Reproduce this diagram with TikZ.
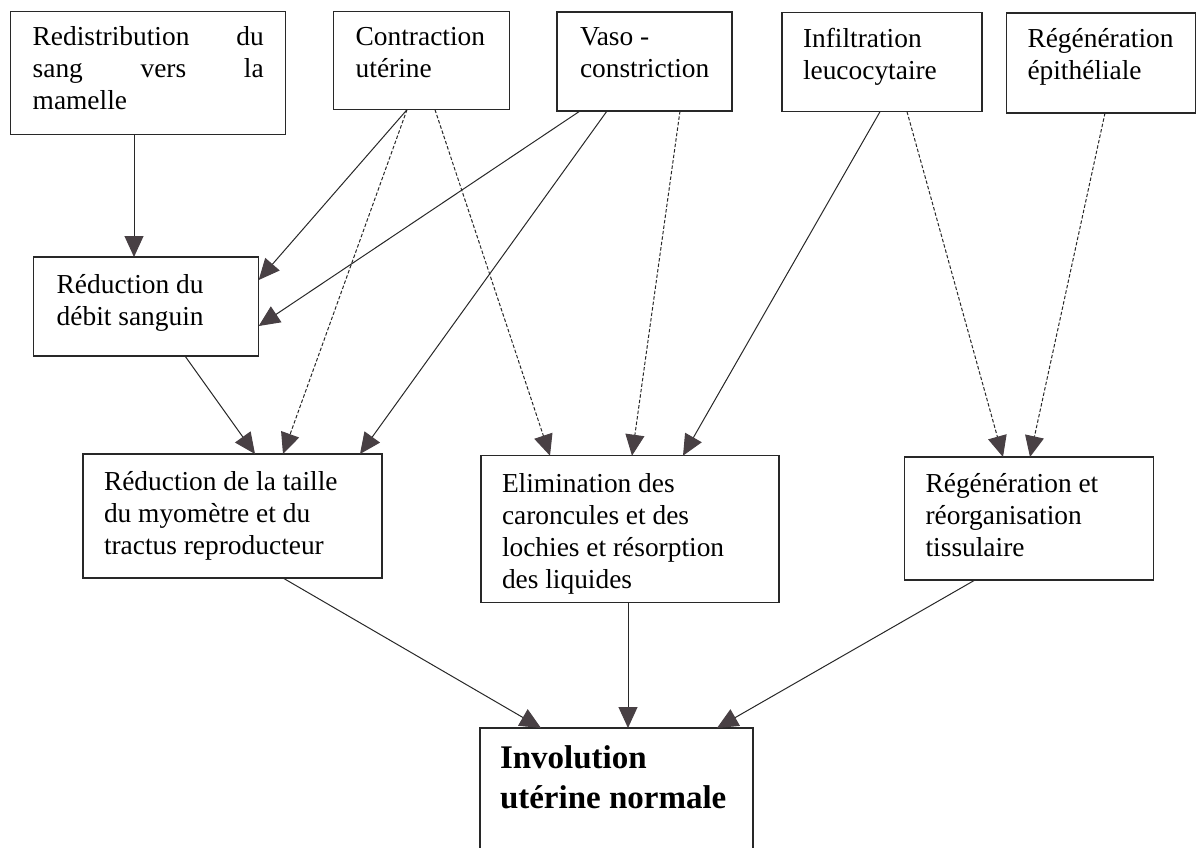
\documentclass[tikz,border=0pt]{standalone}
\usepackage{fontspec}
\setmainfont{Liberation Serif}
\usetikzlibrary{arrows.meta}
\definecolor{ln}{RGB}{40,40,40}
\definecolor{hd}{RGB}{72,64,68}
% #1 width, #2 height, #3 side padding, #4 top padding, #5 text
\newcommand\bxt[5]{\parbox[c][#2pt][t]{#1pt}{\hyphenpenalty=10000\leftskip=#3pt\rightskip=#3pt plus 1fil\vspace*{#4pt}\strut #5\par}}
\tikzset{
  box/.style={draw=ln, line width=1.3pt, fill=white, inner sep=0pt, outer sep=0pt,
    anchor=north west, font=\fontsize{27.4}{32}\selectfont},
  boldbox/.style={box, font=\bfseries\fontsize{33}{40}\selectfont},
  arr/.style={draw=ln, line width=1pt, -{Triangle[length=21pt,width=19pt,color=hd]}},
  dasharr/.style={arr, dash pattern=on 3.5pt off 2pt}
}
\begin{document}
\begin{tikzpicture}[x=1pt,y=-1pt]
\useasboundingbox (0,0) rectangle (1203,847);
% top row
\node[box] (redist) at (10.7,11.7) {\bxt{275}{123}{22}{11}{Redistribution\hfill du\\ sang\hfill vers\hfill la\\ mamelle}};
\node[box] (contr) at (333.7,11.7) {\bxt{176}{98}{22}{11}{Contraction\\ utérine}};
\node[box] (vaso) at (557,12) {\bxt{175}{99}{23}{11}{Vaso -\\ constriction}};
\node[box] (infil) at (782,12.7) {\bxt{200}{99}{21}{12}{Infiltration\\ leucocytaire}};
\node[box] (regep) at (1006.5,13) {\bxt{189}{100}{21}{11.6}{Régénération\\ épithéliale}};
% second row
\node[box] (debit) at (33.7,257) {\bxt{225}{99}{23}{13.6}{Réduction du\\ débit sanguin}};
% third row
\node[box] (taille) at (83,454) {\bxt{299}{124}{21}{13.6}{Réduction de la taille\\ du myomètre et du\\ tractus reproducteur}};
\node[box] (elim) at (481,455.7) {\bxt{298}{147}{21}{14}{Elimination des\\ caroncules et des\\ lochies et résorption\\ des liquides}};
\node[box] (regen) at (904.6,457) {\bxt{249}{123}{21}{12.6}{Régénération et\\ réorganisation\\ tissulaire}};
% bottom
\node[boldbox] (invol) at (480,728) {\bxt{273}{150}{20}{12}{Involution\\ utérine normale}};
% connectors
\draw[arr] ([xshift=123.3pt]redist.south west) -- ([xshift=100.3pt]debit.north west);
\draw[arr] ([xshift=73.3pt]contr.south west) -- ([yshift=-23pt]debit.north east);
\draw[arr] ([xshift=23pt]vaso.south west) -- ([yshift=-69pt]debit.north east);
\draw[arr] ([xshift=151.3pt]debit.south west) -- ([xshift=172pt]taille.north west);
\draw[dasharr] ([xshift=73.3pt]contr.south west) -- ([xshift=200pt]taille.north west);
\draw[arr] ([xshift=50pt]vaso.south west) -- ([xshift=277pt]taille.north west);
\draw[dasharr] ([xshift=101.3pt]contr.south west) -- ([xshift=69pt]elim.north west);
\draw[dasharr] ([xshift=123pt]vaso.south west) -- ([xshift=151pt]elim.north west);
\draw[arr] ([xshift=98pt]infil.south west) -- ([xshift=202pt]elim.north west);
\draw[dasharr] ([xshift=125pt]infil.south west) -- ([xshift=98.4pt]regen.north west);
\draw[dasharr] ([xshift=98.5pt]regep.south west) -- ([xshift=125.4pt]regen.north west);
\draw[arr] ([xshift=200pt]taille.south west) -- ([xshift=61pt]invol.north west);
\draw[arr] ([xshift=147pt]elim.south west) -- ([xshift=148pt]invol.north west);
\draw[arr] ([xshift=70.4pt]regen.south west) -- ([xshift=237pt]invol.north west);
\end{tikzpicture}
\end{document}
